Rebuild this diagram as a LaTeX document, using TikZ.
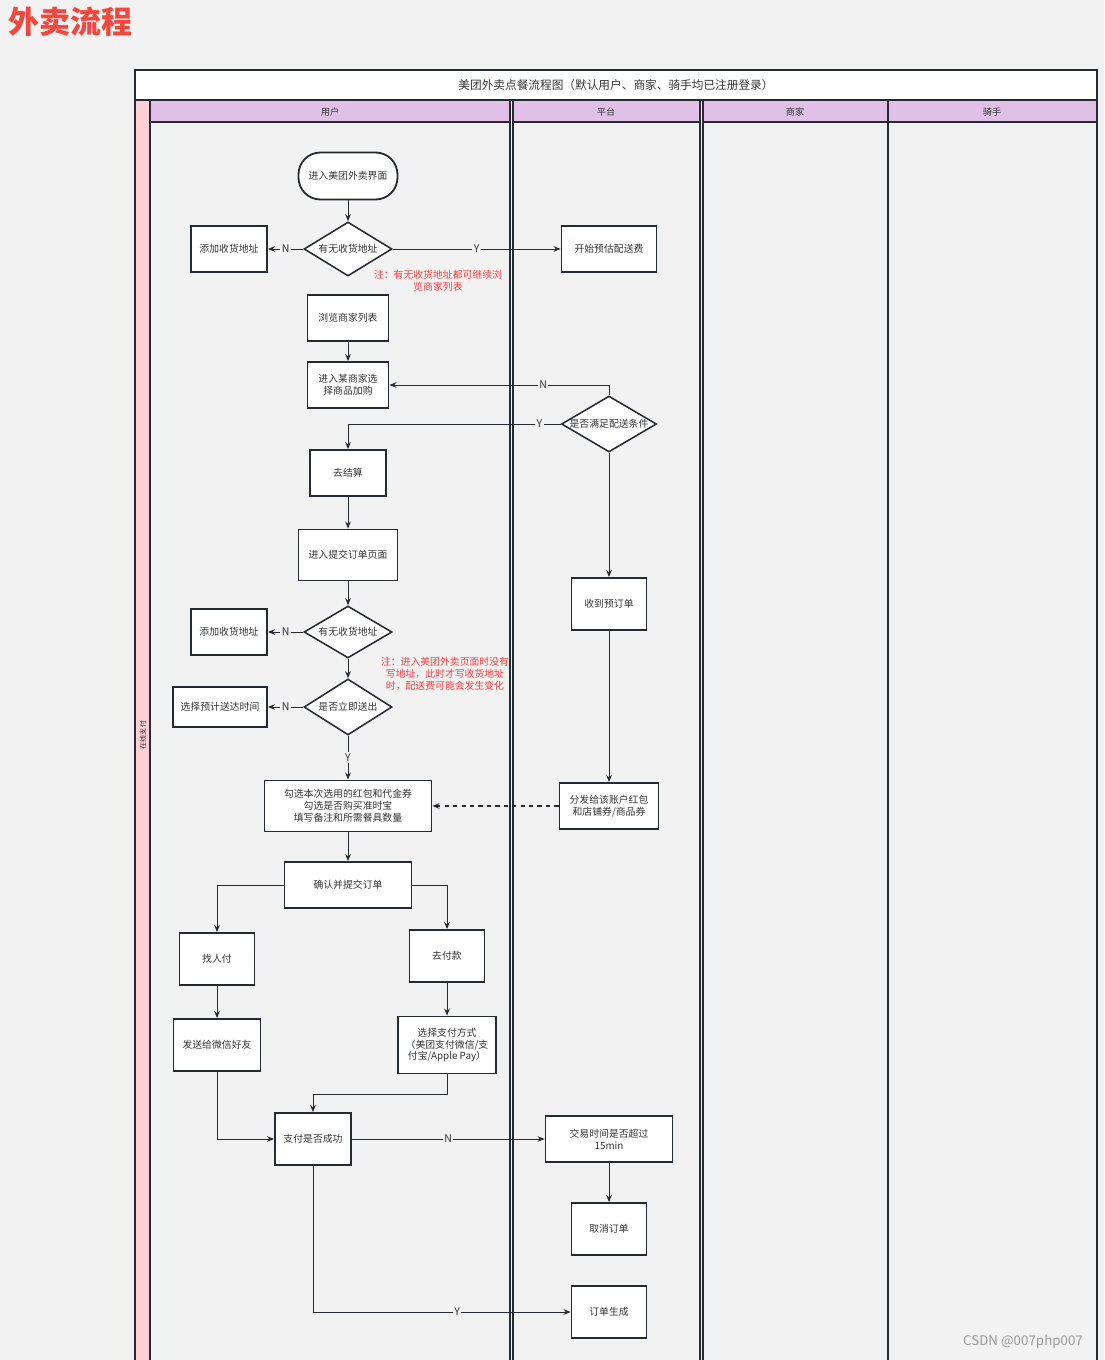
\documentclass[tikz,border=0pt]{standalone}
\usepackage{fontspec}
\setmainfont{Noto Sans CJK SC}
\usetikzlibrary{arrows.meta,shapes.geometric,positioning,calc}
\definecolor{pagegray}{HTML}{F2F2F2}
\definecolor{poolline}{HTML}{262A33}
\definecolor{lanehead}{HTML}{E1C0E8}
\definecolor{lanepink}{HTML}{FFD0D5}
\definecolor{notered}{HTML}{FF3B3B}
\definecolor{titlered}{HTML}{F0483C}
\definecolor{txtgray}{HTML}{333333}

\begin{document}
\begin{tikzpicture}[
  x=0.025cm, y=-0.025cm,
  every node/.style={font=\fontsize{7pt}{8.5pt}\selectfont, text=txtgray},
  pool/.style={draw=poolline, line width=1.3pt},
  box/.style={draw=poolline, line width=1.3pt, fill=white,
              align=center, inner sep=2pt},
  startbox/.style={box, rounded corners=0.55cm},
  decision/.style={diamond, draw=poolline, line width=1.1pt, fill=white,
                   inner sep=0pt},
  arrow/.style={-{Stealth[length=5pt,width=4pt]}, draw=poolline, line width=0.7pt},
  yn/.style={fill=pagegray, inner sep=1pt, font=\fontsize{7.5pt}{8pt}\selectfont},
  note/.style={text=notered, align=center, font=\fontsize{7pt}{8.5pt}\selectfont},
]
\useasboundingbox (0,0) rectangle (1104,1360);
\clip (0,0) rectangle (1104,1360);
\fill[pagegray] (0,0) rectangle (1104,1360);

%% -- title ------------------------------------------------------------------
\node[anchor=west, text=titlered, font=\fontsize{22pt}{24pt}\selectfont\bfseries]
  (title) at (4,22) {外卖流程};

%% -- pool and lanes ---------------------------------------------------------
\draw[pool, fill=white] (135,70) rectangle (1097,100);
\node[font=\fontsize{8.3pt}{9pt}\selectfont] (pooltitle) at (616,85)
  {美团外卖点餐流程图（默认用户、商家、骑手均已注册登录）};
\draw[pool, fill=lanepink] (135,100) rectangle (150,1370);
\node[rotate=90, font=\fontsize{5pt}{6pt}\selectfont] (poollabel) at (143,735) {在线支付};

\draw[pool, fill=lanehead] (150,100) rectangle (510,122);
\draw[pool, fill=lanehead] (513,100) rectangle (700,122);
\draw[pool, fill=lanehead] (703,100) rectangle (888,122);
\draw[pool, fill=lanehead] (888,100) rectangle (1097,122);
\draw[pool] (150,122) rectangle (510,1370);
\draw[pool] (513,122) rectangle (700,1370);
\draw[pool] (703,122) rectangle (888,1370);
\draw[pool] (888,122) rectangle (1097,1370);
\node[font=\fontsize{6.5pt}{7pt}\selectfont] (laneuser) at (330,112) {用户};
\node[font=\fontsize{6.5pt}{7pt}\selectfont] (laneplat) at (606,112) {平台};
\node[font=\fontsize{6.5pt}{7pt}\selectfont] (laneshop) at (795,112) {商家};
\node[font=\fontsize{6.5pt}{7pt}\selectfont] (lanerider) at (992,112) {骑手};

%% -- user lane ------------------------------------------------------------
\node[startbox, minimum width=2.475cm, minimum height=1.175cm] (start) at (348,176) {进入美团外卖界面};
\node[decision, minimum width=2.2cm, minimum height=1.35cm,
      label={center:有无收货地址}] (addrq) at (348,249) {};
\node[box, minimum width=1.9cm, minimum height=1.15cm] (addadd) at (229,249) {添加收货地址};
\node[note] (noteaddr) at (438,281) {注：有无收货地址都可继续浏\\览商家列表};
\node[box, minimum width=2.025cm, minimum height=1.15cm] (browse) at (348,318) {浏览商家列表};
\node[box, minimum width=2.025cm, minimum height=1.15cm] (pick) at (348,385) {进入某商家选\\择商品加购};
\node[box, minimum width=1.9cm, minimum height=1.15cm] (settle) at (348,473) {去结算};
\node[box, minimum width=2.475cm, minimum height=1.275cm] (orderpage) at (348,555) {进入提交订单页面};
\node[decision, minimum width=2.2cm, minimum height=1.3cm,
      label={center:有无收货地址}] (addrq2) at (348,632) {};
\node[box, minimum width=1.9cm, minimum height=1.15cm] (addadd2) at (229,632) {添加收货地址};
\node[note] (notefee) at (445,674) {注：进入美团外卖页面时没有\\写地址，此时才写收货地址\\时，配送费可能会发生变化};
\node[decision, minimum width=2.2cm, minimum height=1.4cm,
      label={center:是否立即送出}] (nowq) at (348,707) {};
\node[box, minimum width=2.35cm, minimum height=1.0cm] (picktime) at (220,707) {选择预计送达时间};
\node[box, minimum width=4.175cm, minimum height=1.275cm] (coupon) at (348,806)
  {勾选本次选用的红包和代金券\\勾选是否购买准时宝\\填写备注和所需餐具数量};
\node[box, minimum width=3.175cm, minimum height=1.15cm] (confirm) at (348,885) {确认并提交订单};
\node[box, minimum width=1.875cm, minimum height=1.3cm] (friendpay) at (217,959) {找人付};
\node[box, minimum width=1.875cm, minimum height=1.3cm] (gopay) at (447,956) {去付款};
\node[box, minimum width=2.175cm, minimum height=1.3cm] (sendwx) at (217,1045) {发送给微信好友};
\node[box, minimum width=2.45cm, minimum height=1.425cm] (paymethod) at (447,1045)
  {选择支付方式\\（美团支付微信/支\\付宝/Apple Pay）};
\node[box, minimum width=1.9cm, minimum height=1.3cm] (payok) at (313,1139) {支付是否成功};
\coordinate (paybend) at (447,1094);

%% -- platform lane --------------------------------------------------------
\node[box, minimum width=2.375cm, minimum height=1.15cm] (estfee) at (609,249) {开始预估配送费};
\node[decision, minimum width=2.375cm, minimum height=1.4cm,
      label={center:是否满足配送条件}] (deliverq) at (609,424) {};
\node[box, minimum width=1.875cm, minimum height=1.3cm] (preorder) at (609,604) {收到预订单};
\node[box, minimum width=2.475cm, minimum height=1.15cm] (bonus) at (609,806) {分发给该账户红包\\和店铺券/商品券};
\node[box, minimum width=3.175cm, minimum height=1.15cm] (timeout) at (609,1139) {交易时间是否超过\\15min};
\node[box, minimum width=1.875cm, minimum height=1.3cm] (cancel) at (609,1229) {取消订单};
\node[box, minimum width=1.875cm, minimum height=1.3cm] (created) at (609,1312) {订单生成};

%% -- connectors -----------------------------------------------------------
\draw[arrow] (start) -- (addrq);
\draw[arrow] (addrq.west) -- (addadd.east) node[midway, yn] {N};
\draw[arrow] (addrq.east) -- (estfee.west) node[midway, yn] {Y};
\draw[arrow] (browse) -- (pick);
\draw[arrow] (deliverq.north) |- (pick.east) node[pos=0.65, yn] {N};
\draw[arrow] (deliverq.west) -| (settle.north) node[pos=0.05, yn] {Y};
\draw[arrow] (deliverq.south) -- (preorder.north);
\draw[arrow] (settle) -- (orderpage);
\draw[arrow] (orderpage) -- (addrq2);
\draw[arrow] (addrq2.west) -- (addadd2.east) node[midway, yn] {N};
\draw[arrow] (addrq2.south) -- (nowq.north);
\draw[arrow] (nowq.west) -- (picktime.east) node[midway, yn] {N};
\draw[arrow] (nowq.south) -- (coupon.north) node[midway, yn] {Y};
\draw[arrow] (preorder.south) -- (bonus.north);
\draw[arrow, dashed, line width=1.2pt] (bonus.west) -- (coupon.east);
\draw[arrow] (coupon) -- (confirm);
\draw[arrow] (confirm.west) -| (friendpay.north);
\draw[arrow] (confirm.east) -| (gopay.north);
\draw[arrow] (friendpay) -- (sendwx);
\draw[arrow] (gopay) -- (paymethod);
\draw[arrow] (sendwx.south) |- (payok.west);
\draw[arrow] (paymethod.south) -- (paybend) -| (payok.north);
\draw[arrow] (payok.east) -- (timeout.west) node[midway, yn] {N};
\draw[arrow] (timeout) -- (cancel);
\draw[arrow] (payok.south) |- (created.west) node[pos=0.78, yn] {Y};

%% -- watermark ------------------------------------------------------------
\node[text=gray!80, font=\fontsize{9.5pt}{10pt}\selectfont] (mark) at (1023,1342) {CSDN @007php007};
\end{tikzpicture}
\end{document}
